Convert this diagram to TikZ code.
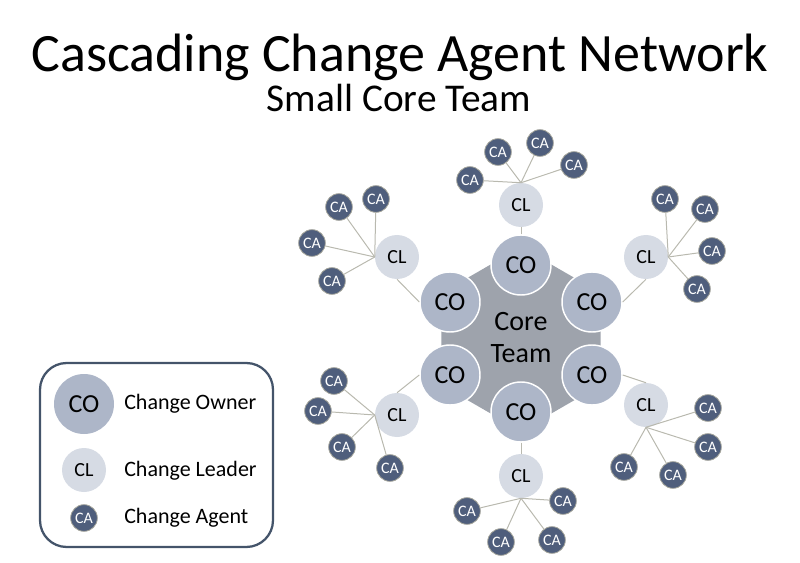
\documentclass[tikz,border=0pt]{standalone}
\usepackage{fontspec}
\setmainfont{Carlito}
\usetikzlibrary{shapes.geometric}
\definecolor{hexgray}{RGB}{158,163,172}
\definecolor{cofill}{RGB}{173,182,200}
\definecolor{clfill}{RGB}{214,219,228}
\definecolor{cafill}{RGB}{79,94,124}
\definecolor{caedge}{RGB}{165,165,155}
\definecolor{linkgray}{RGB}{185,185,175}
\definecolor{legendblue}{RGB}{68,84,106}

\begin{document}
\begin{tikzpicture}[x=0.75pt,y=-0.75pt,
    co/.style={circle, fill=cofill, draw=white, line width=1.1pt,
    minimum size=45pt, inner sep=0pt, font=\fontsize{19.5}{19.5}\selectfont},
    cl/.style={circle, fill=clfill, minimum size=33pt, inner sep=0pt,
    font=\fontsize{15}{15}\selectfont},
    ca/.style={circle, fill=cafill, draw=caedge, line width=0.6pt,
    minimum size=20pt, inner sep=0pt, text=white,
    font=\fontsize{12}{12}\selectfont},
    link/.style={draw=linkgray, line width=0.75pt},
    legendtext/.style={anchor=base west, inner sep=0pt,
    font=\fontsize{16.5}{16.5}\selectfont}]
    \useasboundingbox (0,0) rectangle (800,563);
    \node[anchor=base] (title) at (400,72) {\fontsize{40.5}{40.5}\selectfont Cascading Change Agent Network};
    \node[anchor=base] (subtitle) at (399,112) {\fontsize{29.5}{29.5}\selectfont Small Core Team};
    % core team
    \node[regular polygon, regular polygon sides=6, shape border rotate=90,
        minimum size=138pt, inner sep=0pt, fill=hexgray] (core) at (521,339) {};
    \node[align=center, font=\fontsize{21}{24}\selectfont] (coretext) at (521,338) {Core\\Team};
    \node[co] (co1) at (521,265) {CO};
    \node[co] (co2) at (592,302) {CO};
    \node[co] (co3) at (592,375) {CO};
    \node[co] (co4) at (521,412) {CO};
    \node[co] (co5) at (450,375) {CO};
    \node[co] (co6) at (450,302) {CO};
    % change leaders
    \node[cl] (cl1) at (521,205) {CL};
    \node[cl] (cl2) at (646,257) {CL};
    \node[cl] (cl3) at (646,405) {CL};
    \node[cl] (cl4) at (521,476) {CL};
    \node[cl] (cl5) at (397,415) {CL};
    \node[cl] (cl6) at (397,257) {CL};
    \draw[link] (co1) -- (cl1);
    \draw[link] (co2.east) -- (cl2.south);
    \draw[link] (co3.east) -- (cl3.north);
    \draw[link] (co4) -- (cl4);
    \draw[link] (co5.west) -- (cl5.north);
    \draw[link] (co6.west) -- (cl6.south);
    % change agents
    \foreach \k/\x/\y in {1/470/180,2/498/152,3/540/143,4/574/165}
        {\node[ca] (caa\k) at (\x,\y) {CA}; \draw[link] (cl1.north) -- (caa\k);}
    \foreach \k/\x/\y in {1/665/199,2/705/209,3/712/251,4/697/289}
        {\node[ca] (cab\k) at (\x,\y) {CA}; \draw[link] (cl2.east) -- (cab\k);}
    \foreach \k/\x/\y in {1/708/408,2/708/447,3/673/475,4/624/467}
        {\node[ca] (cac\k) at (\x,\y) {CA}; \draw[link] (cl3.south) -- (cac\k);}
    \foreach \k/\x/\y in {1/467/511,2/501/542,3/552/540,4/563/501}
        {\node[ca] (cad\k) at (\x,\y) {CA}; \draw[link] (cl4.south) -- (cad\k);}
    \foreach \k/\x/\y in {1/334/381,2/318/411,3/342/447,4/390/468}
        {\node[ca] (cae\k) at (\x,\y) {CA}; \draw[link] (cl5.west) -- (cae\k);}
    \foreach \k/\x/\y in {1/339/207,2/376/199,3/312/243,4/332/281}
        {\node[ca] (caf\k) at (\x,\y) {CA}; \draw[link] (cl6.west) -- (caf\k);}
    % legend
    \draw[legendblue, line width=1.7pt, rounded corners=20pt] (40,363) rectangle (273,547);
    \node[co, draw=none] (keyco) at (84,404) {CO};
    \node[cl] (keycl) at (84,470) {CL};
    \node[ca] (keyca) at (84,518) {CA};
    \node[legendtext] (keycotext) at (124,409) {Change Owner};
    \node[legendtext] (keycltext) at (124,476.5) {Change Leader};
    \node[legendtext] (keycatext) at (124,523) {Change Agent};
\end{tikzpicture}
\end{document}
